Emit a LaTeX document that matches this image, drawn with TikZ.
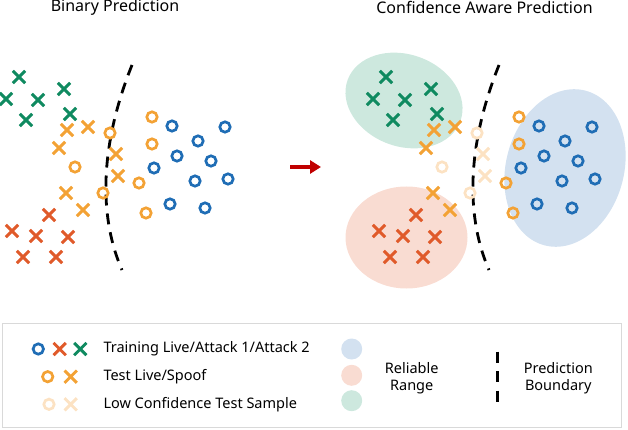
\documentclass[tikz,border=0pt]{standalone}
\usepackage{fontspec}
\setmainfont{Noto Sans}
\usepackage{tikz}
\usetikzlibrary{positioning,shapes.geometric,shapes.misc,arrows.meta}
\usepackage{xcolor}

\definecolor{livecol}{HTML}{1F6DB5}
\definecolor{atkone}{HTML}{E05A2A}
\definecolor{atktwo}{HTML}{0F8A60}
\definecolor{testcol}{HTML}{F3A235}
\definecolor{lowcol}{HTML}{FCE2C3}
\definecolor{bregion}{HTML}{D3E1F0}
\definecolor{rregion}{HTML}{F9DCD2}
\definecolor{gregion}{HTML}{CDE8DE}
\definecolor{arrowcol}{HTML}{C00000}

% sample positions (left panel, px)
\newcommand\livepts{172/126,225/127,198/141,177/156,211/161,154/168,195/181,228/179,170/204,205/208}
\newcommand\atkonepts{49/215,12/231,36/236,68/237,23/257,56/257}
\newcommand\atktwopts{19/77,6/99,38/100,64/89,26/120,70/114}
\newcommand\spoofpts{67/130,88/127,59/148,66/193,83/210}
\newcommand\spoofedge{116/154,118/176}
\newcommand\testlivepts{152/117,152/144,139/183,146/213}
\newcommand\testliveedge{110/133,75/167,103/193}

\begin{document}
\begin{tikzpicture}[%
    x=1pt,
    y=-1pt,
    font=\fontsize{14.5}{17}\selectfont,
    ringpt/.style={%
      circle,
      draw=#1,
      line width=2.7pt,
      minimum size=10.4pt,
      inner sep=0pt
    },
    crosspt/.style={%
      cross out,
      draw=#1,
      line width=2.9pt,
      minimum size=9.4pt,
      inner sep=0pt
    },
    region/.style={%
      ellipse,
      fill=#1,
      inner sep=0pt
    },
    dot/.style={%
      circle,
      fill=#1,
      minimum size=21pt,
      inner sep=0pt
    },
    boundary/.style={%
      line width=2.8pt,
      dash pattern=on 11pt off 8pt
    },
    title/.style={font=\fontsize{16}{19}\selectfont},
    legtext/.style={anchor=west, inner sep=0pt},
    twoline/.style={align=center, font=\fontsize{14.5}{16.7}\selectfont}
  ]
    \useasboundingbox (0,0) rectangle (628,430);

    % left panel
    \node[title] (ltitle) at (115,7) {Binary Prediction};
    \coordinate (ltop) at (132,65);
    \coordinate (lbot) at (122,270);
    \draw[boundary] (ltop) .. controls (98,150) and (100,220) .. (lbot);
    \foreach \px/\py [count=\i] in \livepts     \node[ringpt=livecol] (lb\i) at (\px,\py) {};
    \foreach \px/\py [count=\i] in \atkonepts   \node[crosspt=atkone] (lr\i) at (\px,\py) {};
    \foreach \px/\py [count=\i] in \atktwopts   \node[crosspt=atktwo] (lg\i) at (\px,\py) {};
    \foreach \px/\py [count=\i] in \spoofpts    \node[crosspt=testcol] (lx\i) at (\px,\py) {};
    \foreach \px/\py [count=\i] in \spoofedge   \node[crosspt=testcol] (lxe\i) at (\px,\py) {};
    \foreach \px/\py [count=\i] in \testlivepts \node[ringpt=testcol] (lo\i) at (\px,\py) {};
    \foreach \px/\py [count=\i] in \testliveedge \node[ringpt=testcol] (loe\i) at (\px,\py) {};

    % shift arrow
    \coordinate (arrtail) at (290,167);
    \coordinate (arrhead) at (321,167);
    \draw[arrowcol, line width=4pt, -{Triangle[length=11pt,width=13pt]}] (arrtail) -- (arrhead);

    % right panel
    \node[title] (rtitle) at (484.5,7) {Confidence Aware Prediction};
    \node[region=gregion, minimum width=120pt, minimum height=92pt, rotate=-20] (gzone) at (404,100.5) {};
    \node[region=rregion, minimum width=122pt, minimum height=102pt] (rzone) at (406.5,237.5) {};
    \node[region=bregion, minimum width=118pt, minimum height=160pt, rotate=-15] (bzone) at (565,168) {};
    \begin{scope}[xshift=367pt]
      \coordinate (rtop) at (132,65);
      \coordinate (rbot) at (122,270);
      \draw[boundary] (rtop) .. controls (98,150) and (100,220) .. (rbot);
      \foreach \px/\py [count=\i] in \livepts     \node[ringpt=livecol] (rb\i) at (\px,\py) {};
      \foreach \px/\py [count=\i] in \atkonepts   \node[crosspt=atkone] (rr\i) at (\px,\py) {};
      \foreach \px/\py [count=\i] in \atktwopts   \node[crosspt=atktwo] (rg\i) at (\px,\py) {};
      \foreach \px/\py [count=\i] in \spoofpts    \node[crosspt=testcol] (rx\i) at (\px,\py) {};
      \foreach \px/\py [count=\i] in \spoofedge   \node[crosspt=lowcol] (rxe\i) at (\px,\py) {};
      \foreach \px/\py [count=\i] in \testlivepts \node[ringpt=testcol] (ro\i) at (\px,\py) {};
      \foreach \px/\py [count=\i] in \testliveedge \node[ringpt=lowcol] (roe\i) at (\px,\py) {};
    \end{scope}

    % legend
    \node[draw=black!15, line width=1pt, minimum width=619pt, minimum height=104.4pt] (legend) at (312.2,375.5) {};
    \node[ringpt=livecol] (kb) at (38.3,349) {};
    \node[crosspt=atkone] (kr) at (59.7,349) {};
    \node[crosspt=atktwo] (kg) at (80.3,349) {};
    \node[legtext] (ktrain) at (103.3,349) {Training Live/Attack 1/Attack 2};
    \node[ringpt=testcol] (ko) at (47.7,376.7) {};
    \node[crosspt=testcol] (kx) at (70.7,376.7) {};
    \node[legtext] (ktest) at (103.3,376.7) {Test Live/Spoof};
    \node[ringpt=lowcol] (klo) at (49,404.3) {};
    \node[crosspt=lowcol] (klx) at (70.7,404.3) {};
    \node[legtext] (klow) at (103.3,404.3) {Low Confidence Test Sample};
    \node[dot=bregion] (kbr) at (351.7,349) {};
    \node[dot=rregion] (krr) at (351.7,375.3) {};
    \node[dot=gregion] (kgr) at (351.7,400.7) {};
    \node[twoline] (krange) at (411.7,378.3) {Reliable\\Range};
    \coordinate (kbtop) at (497.3,351.7);
    \coordinate (kbbot) at (497.3,401.7);
    \draw[boundary, line width=3pt, dash pattern=on 11pt off 8.5pt] (kbtop) -- (kbbot);
    \node[twoline] (kbound) at (558.3,378) {Prediction\\Boundary};
  \end{tikzpicture}
\end{document}
